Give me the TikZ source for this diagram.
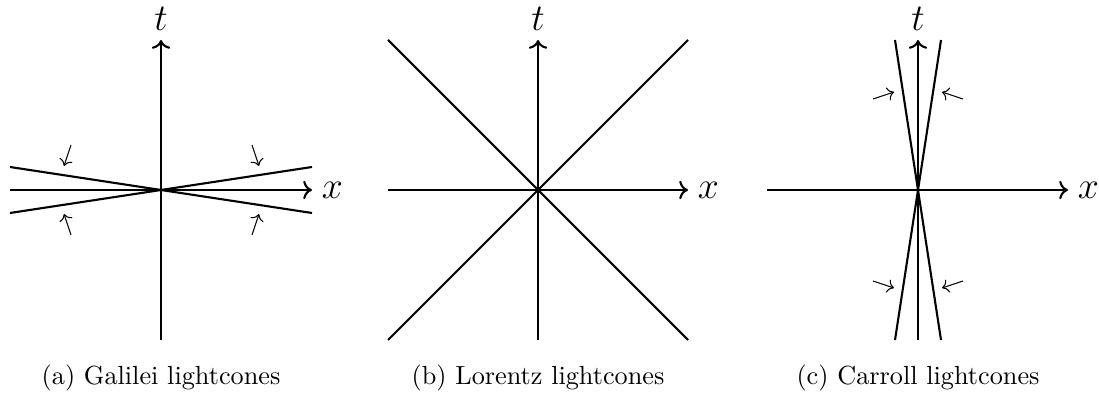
\documentclass[tikz,border=0pt]{standalone}
\usepackage{tikz}
\usetikzlibrary{arrows.meta}
\usepackage{amsmath}

\begin{document}
\begin{tikzpicture}[x=0.0134cm, y=-0.0134cm,
      axis/.style={->, thick},
      cone/.style={thick},
      squeeze/.style={->},
      lbl/.style={font=\Large},
      caption/.style={font=\normalsize, anchor=base}
    ]
    \useasboundingbox (0,0) rectangle (1099,394);

    % Galilei
    \coordinate (ga-o) at (161,190);
    \coordinate (ga-l) at (10,190);
    \coordinate (ga-r) at (312,190);
    \coordinate (ga-b) at (161,340);
    \coordinate (ga-t) at (161,40);
    \draw[axis] (ga-l) -- (ga-r) node[right, lbl] (ga-x) {$x$};
    \draw[axis] (ga-b) -- (ga-t) node[above, lbl] (ga-tl) {$t$};
    \draw[cone] (10,167) -- (ga-o) -- (312,213);
    \draw[cone] (10,213) -- (ga-o) -- (312,167);
    \draw[squeeze] (71,145) -- (64,166);
    \draw[squeeze] (252,145) -- (259,166);
    \draw[squeeze] (71,235) -- (64,214);
    \draw[squeeze] (252,235) -- (259,214);
    \node[caption] (ga-cap) at (161,385) {(a) Galilei lightcones};

    % Lorentz
    \coordinate (lo-o) at (538,190);
    \coordinate (lo-l) at (388,190);
    \coordinate (lo-r) at (688,190);
    \coordinate (lo-b) at (538,340);
    \coordinate (lo-t) at (538,40);
    \draw[axis] (lo-l) -- (lo-r) node[right, lbl] (lo-x) {$x$};
    \draw[axis] (lo-b) -- (lo-t) node[above, lbl] (lo-tl) {$t$};
    \draw[cone] (388,40) -- (lo-o) -- (688,340);
    \draw[cone] (388,340) -- (lo-o) -- (688,40);
    \node[caption] (lo-cap) at (538,385) {(b) Lorentz lightcones};

    % Carroll
    \coordinate (ca-o) at (918,190);
    \coordinate (ca-l) at (767,190);
    \coordinate (ca-r) at (1068,190);
    \coordinate (ca-b) at (918,340);
    \coordinate (ca-t) at (918,40);
    \draw[axis] (ca-l) -- (ca-r) node[right, lbl] (ca-x) {$x$};
    \draw[axis] (ca-b) -- (ca-t) node[above, lbl] (ca-tl) {$t$};
    \draw[cone] (895,40) -- (ca-o) -- (941,340);
    \draw[cone] (941,40) -- (ca-o) -- (895,340);
    \draw[squeeze] (873,99) -- (894,92);
    \draw[squeeze] (963,99) -- (942,92);
    \draw[squeeze] (873,281) -- (894,288);
    \draw[squeeze] (963,281) -- (942,288);
    \node[caption] (ca-cap) at (918,385) {(c) Carroll lightcones};
  \end{tikzpicture}
\end{document}
